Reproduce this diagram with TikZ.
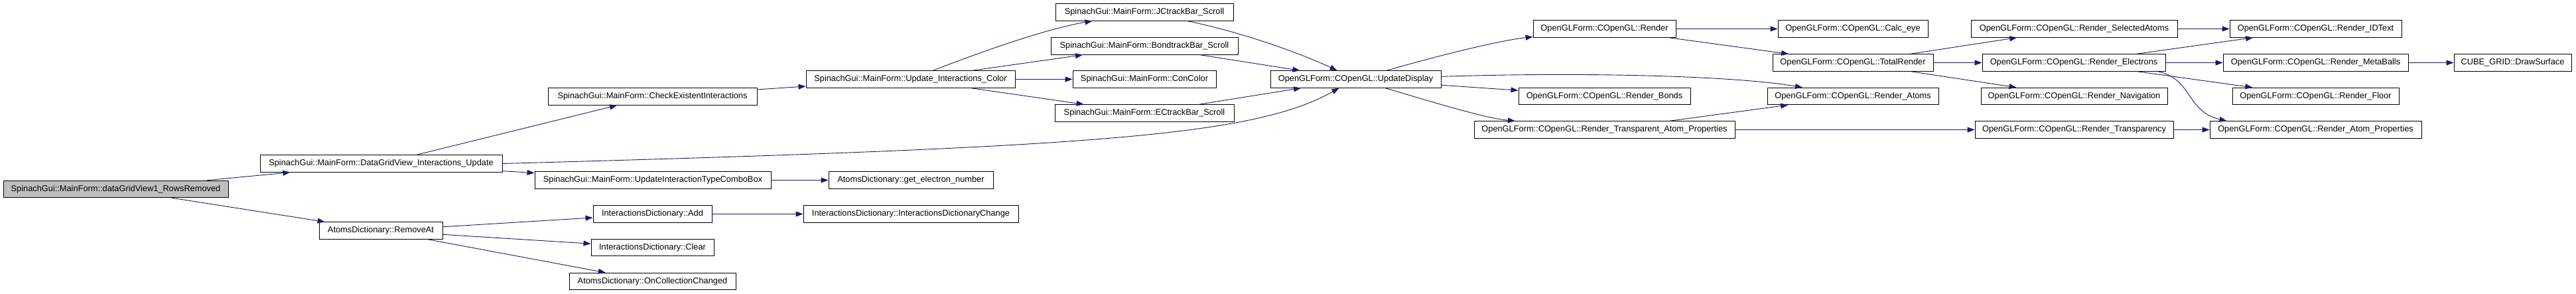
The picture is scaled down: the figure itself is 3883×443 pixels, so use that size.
\documentclass[tikz,border=0pt]{standalone}
\usepackage{fontspec}
\setmainfont{Liberation Sans}
\usetikzlibrary{arrows.meta}
\definecolor{edgeblue}{HTML}{191970}
\begin{document}
\begin{tikzpicture}[
  x=1pt, y=-1pt,
  fn/.style={draw=black, fill=white, line width=0.9pt, minimum height=25.5pt, inner sep=0pt,
             font=\fontsize{12.8}{15}\selectfont},
  rootfn/.style={fn, fill=black!25},
  arrow/.style={-{Triangle[length=11pt, width=8pt]}, line width=0.9pt, draw=edgeblue},
]
\useasboundingbox (0,0) rectangle (3883,443);

% Caller
\node[rootfn, minimum width=339pt] (root) at (174.5, 285) {SpinachGui::MainForm::dataGridView1\_RowsRemoved};

% Level 1
\node[fn, minimum width=365pt] (dgvUpd) at (574.5, 246.5) {SpinachGui::MainForm::DataGridView\_Interactions\_Update};
\node[fn, minimum width=186pt] (remAt) at (574, 347.5) {AtomsDictionary::RemoveAt};

% Level 2
\node[fn, minimum width=315pt] (chkExist) at (983.5, 145.5) {SpinachGui::MainForm::CheckExistentInteractions};
\node[fn, minimum width=356pt] (updCombo) at (984, 271.5) {SpinachGui::MainForm::UpdateInteractionTypeComboBox};
\node[fn, minimum width=179pt] (idAdd) at (983.5, 322.5) {InteractionsDictionary::Add};
\node[fn, minimum width=185pt] (idClear) at (983.5, 373) {InteractionsDictionary::Clear};
\node[fn, minimum width=251pt] (onColl) at (983.5, 424) {AtomsDictionary::OnCollectionChanged};

% Level 3
\node[fn, minimum width=315pt] (updColor) at (1372.5, 119.5) {SpinachGui::MainForm::Update\_Interactions\_Color};
\node[fn, minimum width=248pt] (getElec) at (1373, 271.5) {AtomsDictionary::get\_electron\_number};
\node[fn, minimum width=324pt] (idChange) at (1373, 322.5) {InteractionsDictionary::InteractionsDictionaryChange};

% Level 4: track bars
\node[fn, minimum width=268pt] (jcScroll) at (1725, 18.5) {SpinachGui::MainForm::JCtrackBar\_Scroll};
\node[fn, minimum width=282pt] (bondScroll) at (1725, 69.5) {SpinachGui::MainForm::BondtrackBar\_Scroll};
\node[fn, minimum width=216pt] (conColor) at (1725, 119.5) {SpinachGui::MainForm::ConColor};
\node[fn, minimum width=270pt] (ecScroll) at (1725, 170.5) {SpinachGui::MainForm::ECtrackBar\_Scroll};

% OpenGL side
\node[fn, minimum width=257pt] (updDisp) at (2043.5, 119.5) {OpenGLForm::COpenGL::UpdateDisplay};
\node[fn, minimum width=215pt] (render) at (2418.5, 43.5) {OpenGLForm::COpenGL::Render};
\node[fn, minimum width=259pt] (rBonds) at (2418.5, 145) {OpenGLForm::COpenGL::Render\_Bonds};
\node[fn, minimum width=393pt] (rTransAtom) at (2418.5, 195.5) {OpenGLForm::COpenGL::Render\_Transparent\_Atom\_Properties};

\node[fn, minimum width=226pt] (calcEye) at (2793, 43.5) {OpenGLForm::COpenGL::Calc\_eye};
\node[fn, minimum width=242pt] (totalRender) at (2793, 94.5) {OpenGLForm::COpenGL::TotalRender};
\node[fn, minimum width=258pt] (rAtoms) at (2793, 145) {OpenGLForm::COpenGL::Render\_Atoms};

\node[fn, minimum width=311pt] (rSelAtoms) at (3126.5, 43.5) {OpenGLForm::COpenGL::Render\_SelectedAtoms};
\node[fn, minimum width=276pt] (rElectrons) at (3126, 94.5) {OpenGLForm::COpenGL::Render\_Electrons};
\node[fn, minimum width=281pt] (rNav) at (3126.5, 145) {OpenGLForm::COpenGL::Render\_Navigation};
\node[fn, minimum width=299pt] (rTransp) at (3126.5, 195.5) {OpenGLForm::COpenGL::Render\_Transparency};

\node[fn, minimum width=259pt] (rIDText) at (3490.5, 43.5) {OpenGLForm::COpenGL::Render\_IDText};
\node[fn, minimum width=279pt] (rMetaBalls) at (3490.5, 94.5) {OpenGLForm::COpenGL::Render\_MetaBalls};
\node[fn, minimum width=251pt] (rFloor) at (3490.5, 145) {OpenGLForm::COpenGL::Render\_Floor};
\node[fn, minimum width=319pt] (rAtomProps) at (3490.5, 195.5) {OpenGLForm::COpenGL::Render\_Atom\_Properties};
\node[fn, minimum width=177pt] (drawSurf) at (3787.5, 94.5) {CUBE\_GRID::DrawSurface};

% Calls from the caller
\draw[arrow] (root) -- (dgvUpd);
\draw[arrow] (root) -- (remAt);

\draw[arrow] (dgvUpd) -- (chkExist);
\draw[arrow] (dgvUpd) -- (updCombo);
\draw[arrow] (dgvUpd.east) .. controls (1650,222) and (1890,205) .. ([xshift=-25pt]updDisp.south);
\draw[arrow] (remAt) -- (idAdd);
\draw[arrow] (remAt) -- (idClear);
\draw[arrow] (remAt) -- (onColl);

\draw[arrow] (chkExist) -- (updColor);
\draw[arrow] (updCombo) -- (getElec);
\draw[arrow] (idAdd) -- (idChange);

% Colour update fans out
\draw[arrow] (updColor) .. controls (1466,83) and (1573,44) .. (jcScroll);
\draw[arrow] (updColor) -- (bondScroll);
\draw[arrow] (updColor) -- (conColor);
\draw[arrow] (updColor) -- (ecScroll);

\draw[arrow] (jcScroll) .. controls (1870,48) and (1960,80) .. (updDisp);
\draw[arrow] (bondScroll) -- (updDisp);
\draw[arrow] (ecScroll) -- (updDisp);

% Display update
\draw[arrow] (updDisp) .. controls (2200,75) and (2270,60) .. (render);
\draw[arrow] (updDisp) .. controls (2400,108) and (2620,115) .. (rAtoms);
\draw[arrow] (updDisp) -- (rBonds);
\draw[arrow] (updDisp) .. controls (2180,160) and (2240,178) .. (rTransAtom);

\draw[arrow] (render) -- (calcEye);
\draw[arrow] (render) -- (totalRender);
\draw[arrow] (rTransAtom) -- (rAtoms);
\draw[arrow] (rTransAtom) -- (rTransp);

\draw[arrow] (totalRender) -- (rSelAtoms);
\draw[arrow] (totalRender) -- (rElectrons);
\draw[arrow] (totalRender) -- (rNav);

\draw[arrow] (rSelAtoms) -- (rIDText);
\draw[arrow] (rElectrons) -- (rIDText);
\draw[arrow] (rElectrons) -- (rMetaBalls);
\draw[arrow] (rElectrons) -- (rFloor);
\draw[arrow] ([xshift=126pt]rElectrons.south) .. controls (3305,118) and (3295,168) .. ([xshift=-134pt]rAtomProps.north);
\draw[arrow] (rTransp) -- (rAtomProps);
\draw[arrow] (rMetaBalls) -- (drawSurf);

\end{tikzpicture}
\end{document}
